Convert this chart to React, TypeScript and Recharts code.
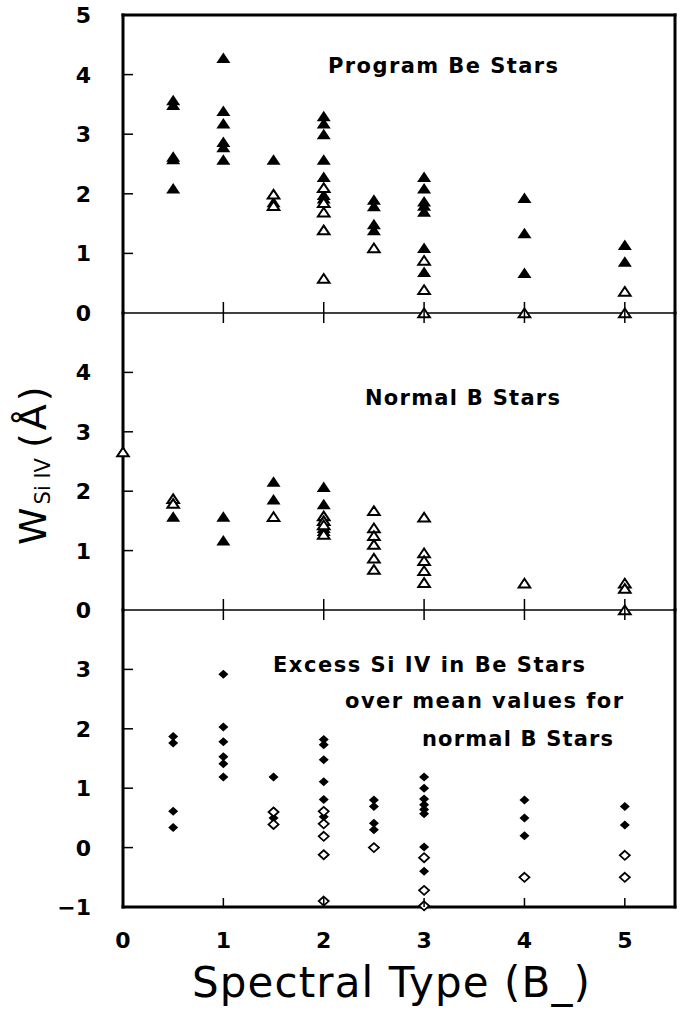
import { ScatterChart, Scatter, XAxis, YAxis } from 'recharts';

// W(Si IV) in Angstrom against spectral subtype B0..B5
type Pt = { type: number; w: number };

// top panel: program Be stars
const programFilled: Pt[] = [
  { type: 0.5, w: 3.57 }, { type: 0.5, w: 3.49 }, { type: 0.5, w: 2.62 }, { type: 0.5, w: 2.58 }, { type: 0.5, w: 2.09 },
  { type: 1, w: 4.28 }, { type: 1, w: 3.39 }, { type: 1, w: 3.18 }, { type: 1, w: 2.87 }, { type: 1, w: 2.78 }, { type: 1, w: 2.57 },
  { type: 1.5, w: 2.57 }, { type: 1.5, w: 1.86 },
  { type: 2, w: 3.3 }, { type: 2, w: 3.18 }, { type: 2, w: 3.0 }, { type: 2, w: 2.57 }, { type: 2, w: 2.28 }, { type: 2, w: 1.98 }, { type: 2, w: 1.92 },
  { type: 2.5, w: 1.9 }, { type: 2.5, w: 1.79 }, { type: 2.5, w: 1.49 }, { type: 2.5, w: 1.39 },
  { type: 3, w: 2.28 }, { type: 3, w: 2.09 }, { type: 3, w: 1.87 }, { type: 3, w: 1.8 }, { type: 3, w: 1.7 }, { type: 3, w: 1.09 }, { type: 3, w: 0.69 },
  { type: 4, w: 1.93 }, { type: 4, w: 1.34 }, { type: 4, w: 0.67 },
  { type: 5, w: 1.14 }, { type: 5, w: 0.86 },
];
const programOpen: Pt[] = [
  { type: 1.5, w: 1.99 }, { type: 1.5, w: 1.8 },
  { type: 2, w: 2.1 }, { type: 2, w: 1.85 }, { type: 2, w: 1.69 }, { type: 2, w: 1.39 }, { type: 2, w: 0.58 },
  { type: 2.5, w: 1.09 },
  { type: 3, w: 0.88 }, { type: 3, w: 0.39 }, { type: 3, w: 0 },
  { type: 4, w: 0 },
  { type: 5, w: 0.36 }, { type: 5, w: 0 },
];

// middle panel: normal B stars
const normalFilled: Pt[] = [
  { type: 0.5, w: 1.57 },
  { type: 1, w: 1.57 }, { type: 1, w: 1.17 },
  { type: 1.5, w: 2.16 }, { type: 1.5, w: 1.86 },
  { type: 2, w: 2.07 }, { type: 2, w: 1.78 }, { type: 2, w: 1.38 }, { type: 2, w: 1.33 },
];
const normalOpen: Pt[] = [
  { type: 0, w: 2.66 },
  { type: 0.5, w: 1.87 }, { type: 0.5, w: 1.79 },
  { type: 1.5, w: 1.57 },
  { type: 2, w: 1.58 }, { type: 2, w: 1.5 }, { type: 2, w: 1.43 }, { type: 2, w: 1.27 },
  { type: 2.5, w: 1.67 }, { type: 2.5, w: 1.38 }, { type: 2.5, w: 1.25 }, { type: 2.5, w: 1.1 }, { type: 2.5, w: 0.87 }, { type: 2.5, w: 0.68 },
  { type: 3, w: 1.56 }, { type: 3, w: 0.96 }, { type: 3, w: 0.83 }, { type: 3, w: 0.66 }, { type: 3, w: 0.46 },
  { type: 4, w: 0.45 },
  { type: 5, w: 0.45 }, { type: 5, w: 0.36 }, { type: 5, w: 0 },
];

// bottom panel: excess over the normal-star means
const excessFilled: Pt[] = [
  { type: 0.5, w: 1.87 }, { type: 0.5, w: 1.76 }, { type: 0.5, w: 0.61 }, { type: 0.5, w: 0.34 },
  { type: 1, w: 2.92 }, { type: 1, w: 2.03 }, { type: 1, w: 1.78 }, { type: 1, w: 1.53 }, { type: 1, w: 1.41 }, { type: 1, w: 1.19 },
  { type: 1.5, w: 1.19 }, { type: 1.5, w: 0.5 },
  { type: 2, w: 1.82 }, { type: 2, w: 1.73 }, { type: 2, w: 1.48 }, { type: 2, w: 1.11 }, { type: 2, w: 0.81 }, { type: 2, w: 0.52 },
  { type: 2.5, w: 0.8 }, { type: 2.5, w: 0.69 }, { type: 2.5, w: 0.41 }, { type: 2.5, w: 0.3 },
  { type: 3, w: 1.19 }, { type: 3, w: 1.0 }, { type: 3, w: 0.82 }, { type: 3, w: 0.72 }, { type: 3, w: 0.64 }, { type: 3, w: 0.57 }, { type: 3, w: 0.01 }, { type: 3, w: -0.4 },
  { type: 4, w: 0.8 }, { type: 4, w: 0.5 }, { type: 4, w: 0.2 },
  { type: 5, w: 0.69 }, { type: 5, w: 0.38 },
];
const excessOpen: Pt[] = [
  { type: 1.5, w: 0.6 }, { type: 1.5, w: 0.39 },
  { type: 2, w: 0.61 }, { type: 2, w: 0.4 }, { type: 2, w: 0.19 }, { type: 2, w: -0.12 }, { type: 2, w: -0.9 },
  { type: 2.5, w: 0 },
  { type: 3, w: -0.17 }, { type: 3, w: -0.72 }, { type: 3, w: -0.98 },
  { type: 4, w: -0.5 },
  { type: 5, w: -0.13 }, { type: 5, w: -0.5 },
];

const xTicks = [0, 1, 2, 3, 4, 5];

const FONT = '"DejaVu Sans", Verdana, sans-serif';
const INK = '#000';
const CHART_W = 683;
const PLOT_L = 123;
const PLOT_R = 675;

// marker shapes
const filledTriangle = (p: any) => (
  <path d={`M${p.cx},${p.cy - 5.5}L${p.cx + 7},${p.cy + 5}L${p.cx - 7},${p.cy + 5}Z`} fill={INK} />
);
const openTriangle = (p: any) => (
  <path
    d={`M${p.cx},${p.cy - 4.5}L${p.cx + 5.8},${p.cy + 4.2}L${p.cx - 5.8},${p.cy + 4.2}Z`}
    fill="#fff"
    stroke={INK}
    strokeWidth={2}
    strokeLinejoin="miter"
  />
);
const filledDiamond = (p: any) => (
  <path d={`M${p.cx},${p.cy - 4.5}L${p.cx + 5},${p.cy}L${p.cx},${p.cy + 4.5}L${p.cx - 5},${p.cy}Z`} fill={INK} />
);
const openDiamond = (p: any) => (
  <path
    d={`M${p.cx},${p.cy - 4.5}L${p.cx + 5},${p.cy}L${p.cx},${p.cy + 4.5}L${p.cx - 5},${p.cy}Z`}
    fill="#fff"
    stroke={INK}
    strokeWidth={1.8}
  />
);

interface PanelProps {
  top: number;
  height: number;
  padTop: number;
  padBottom: number;
  yDomain: [number, number];
  yTicks: number[];
  yLabels: number[];
  topFrame: boolean;
  bottomFrame: boolean;
  showXLabels: boolean;
  series: { data: Pt[]; shape: any }[];
}

const Panel = ({ top, height, padTop, padBottom, yDomain, yTicks, yLabels, topFrame, bottomFrame, showXLabels, series }: PanelProps) => {
  const plotTop = padTop;
  const plotBottom = height - padBottom;

  const leftTick = (props: any) => {
    const v = props.payload.value;
    const y = props.y;
    const inside = v > yDomain[0] && v < yDomain[1];
    return (
      <g>
        {inside && <line x1={PLOT_L} x2={PLOT_L + 10} y1={y} y2={y} stroke={INK} strokeWidth={1.5} />}
        {yLabels.includes(v) && (
          <text x={91} y={y} dy={8} textAnchor="end" fontFamily={FONT} fontSize={22} fontWeight="bold" fill={INK}>
            {v === -1 ? '\u22121' : v}
          </text>
        )}
      </g>
    );
  };

  const rightTick = (props: any) => {
    const v = props.payload.value;
    const y = props.y;
    if (v <= yDomain[0] || v >= yDomain[1]) return <g />;
    return <line x1={PLOT_R - 10} x2={PLOT_R} y1={y} y2={y} stroke={INK} strokeWidth={1.5} />;
  };

  const topTick = (props: any) => {
    const v = props.payload.value;
    if (!topFrame || v === 0) return <g />;
    return <line x1={props.x} x2={props.x} y1={plotTop} y2={plotTop + 8} stroke={INK} strokeWidth={1.5} />;
  };

  const bottomTick = (props: any) => {
    const v = props.payload.value;
    const x = props.x;
    return (
      <g>
        {v !== 0 && (
          <line
            x1={x}
            x2={x}
            y1={plotBottom - (bottomFrame ? 9 : 11)}
            y2={plotBottom + (bottomFrame ? 0 : 10)}
            stroke={INK}
            strokeWidth={1.5}
          />
        )}
        {showXLabels && (
          <text x={x} y={plotBottom + 41} textAnchor="middle" fontFamily={FONT} fontSize={22} fontWeight="bold" fill={INK}>
            {v}
          </text>
        )}
      </g>
    );
  };

  return (
    <div style={{ position: 'absolute', left: 0, top, width: CHART_W, height }}>
      <ScatterChart width={CHART_W} height={height} margin={{ top: 0, right: 0, bottom: 0, left: 0 }}>
        <XAxis
          xAxisId="b"
          type="number"
          dataKey="type"
          domain={[0, 5.5]}
          ticks={xTicks}
          interval={0}
          orientation="bottom"
          height={padBottom}
          tickLine={false}
          tickSize={0}
          axisLine={{ stroke: INK, strokeWidth: bottomFrame ? 3 : 1.6, strokeLinecap: 'square' }}
          tick={bottomTick}
        />
        <XAxis
          xAxisId="t"
          type="number"
          dataKey="type"
          domain={[0, 5.5]}
          ticks={xTicks}
          interval={0}
          orientation="top"
          height={padTop}
          tickLine={false}
          tickSize={0}
          axisLine={topFrame ? { stroke: INK, strokeWidth: 3, strokeLinecap: 'square' } : false}
          tick={topTick}
        />
        <YAxis
          yAxisId="l"
          type="number"
          dataKey="w"
          domain={yDomain}
          ticks={yTicks}
          interval={0}
          width={PLOT_L}
          tickLine={false}
          tickSize={0}
          axisLine={{ stroke: INK, strokeWidth: 3, strokeLinecap: 'square' }}
          tick={leftTick}
        />
        <YAxis
          yAxisId="r"
          type="number"
          orientation="right"
          domain={yDomain}
          ticks={yTicks}
          interval={0}
          width={CHART_W - PLOT_R}
          tickLine={false}
          tickSize={0}
          axisLine={{ stroke: INK, strokeWidth: 3, strokeLinecap: 'square' }}
          tick={rightTick}
        />
        {series.map((s, i) => (
          <Scatter key={i} data={s.data} xAxisId="b" yAxisId="l" shape={s.shape} isAnimationActive={false} />
        ))}
      </ScatterChart>
    </div>
  );
};

const caption = { fontFamily: FONT, fontSize: 21, fontWeight: 'bold' as const, fill: INK };

const App = () => (
  <div style={{ position: 'absolute', left: 0, top: 0, width: 683, height: 1011, background: '#fff' }}>
    <Panel
      top={0}
      height={330}
      padTop={15}
      padBottom={17}
      yDomain={[0, 5]}
      yTicks={[0, 1, 2, 3, 4, 5]}
      yLabels={[0, 1, 2, 3, 4, 5]}
      topFrame
      bottomFrame={false}
      showXLabels={false}
      series={[
        { data: programFilled, shape: filledTriangle },
        { data: programOpen, shape: openTriangle },
      ]}
    />
    <Panel
      top={300}
      height={335}
      padTop={13}
      padBottom={25}
      yDomain={[0, 5]}
      yTicks={[0, 1, 2, 3, 4]}
      yLabels={[0, 1, 2, 3, 4]}
      topFrame={false}
      bottomFrame={false}
      showXLabels={false}
      series={[
        { data: normalFilled, shape: filledTriangle },
        { data: normalOpen, shape: openTriangle },
      ]}
    />
    <Panel
      top={597}
      height={414}
      padTop={13}
      padBottom={104}
      yDomain={[-1, 4]}
      yTicks={[-1, 0, 1, 2, 3]}
      yLabels={[-1, 0, 1, 2, 3]}
      topFrame={false}
      bottomFrame
      showXLabels
      series={[
        { data: excessFilled, shape: filledDiamond },
        { data: excessOpen, shape: openDiamond },
      ]}
    />
    <svg width={683} height={1011} style={{ position: 'absolute', left: 0, top: 0, pointerEvents: 'none' }}>
      <text x={328} y={73} textLength={230} lengthAdjust="spacing" {...caption}>Program Be Stars</text>
      <text x={365} y={405} textLength={195} lengthAdjust="spacing" {...caption}>Normal B Stars</text>
      <text x={273} y={672} textLength={312} lengthAdjust="spacing" {...caption}>Excess Si IV in Be Stars</text>
      <text x={345} y={708} textLength={278} lengthAdjust="spacing" {...caption}>over mean values for</text>
      <text x={422} y={746} textLength={191} lengthAdjust="spacing" {...caption}>normal B Stars</text>
      <text x={192} y={997} textLength={398} lengthAdjust="spacing" fontFamily={FONT} fontSize={42} fill={INK}>
        Spectral Type (B_)
      </text>
      <text transform="translate(46,545) rotate(-90)" fontFamily={FONT} fontSize={38} fill={INK}>
        <tspan>W</tspan>
        <tspan fontSize={21} dx={3} dy={4}>Si IV</tspan>
        <tspan dx={10} dy={-4} letterSpacing={3}>(Å)</tspan>
      </text>
    </svg>
  </div>
);

export default App;
